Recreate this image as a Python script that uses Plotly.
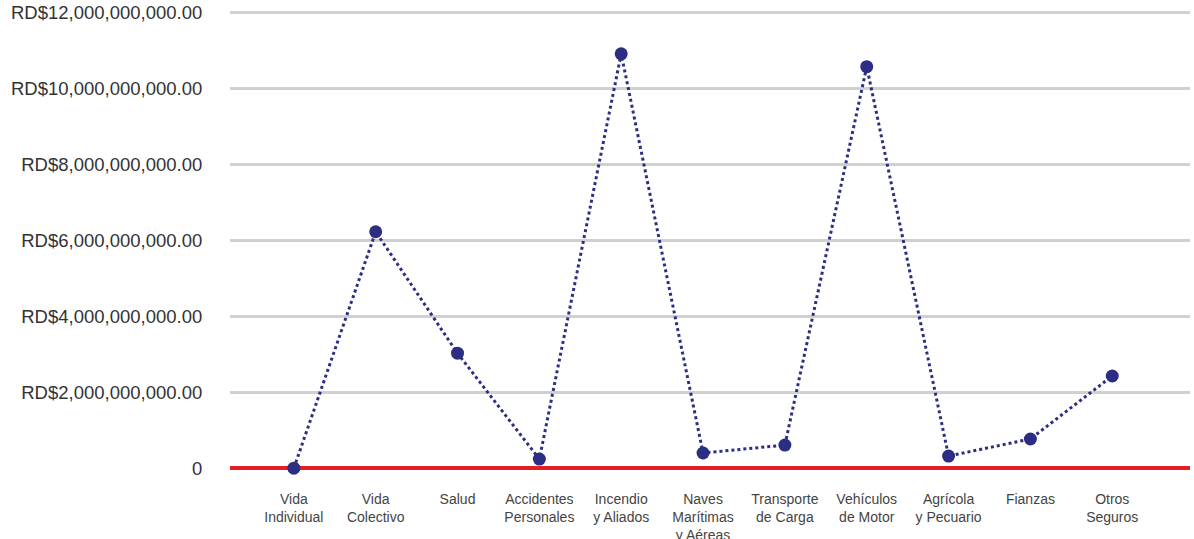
import plotly.graph_objects as go

categories = ["Vida<br>Individual", "Vida<br>Colectivo", "Salud", "Accidentes<br>Personales",
              "Incendio<br>y Aliados", "Naves<br>Marítimas<br>y Aéreas", "Transporte<br>de Carga",
              "Vehículos<br>de Motor", "Agrícola<br>y Pecuario", "Fianzas", "Otros<br>Seguros"]
values = [0.0e9, 6.23e9, 3.03e9, 0.24e9, 10.92e9, 0.40e9, 0.61e9, 10.58e9, 0.32e9, 0.77e9, 2.43e9]
y_ticks = [0, 2e9, 4e9, 6e9, 8e9, 10e9, 12e9]
y_ticktext = ["0", "RD$2,000,000,000.00", "RD$4,000,000,000.00", "RD$6,000,000,000.00",
              "RD$8,000,000,000.00", "RD$10,000,000,000.00", "RD$12,000,000,000.00"]

navy = "#2b2e83"

fig = go.Figure()
fig.add_trace(go.Scatter(
    x=list(range(len(categories))), y=values, mode="lines+markers",
    line=dict(color=navy, width=3, dash="dot"),
    marker=dict(color=navy, size=13),
    cliponaxis=False, showlegend=False,
))

fig.update_layout(
    width=1194, height=539,
    margin=dict(l=230, r=4, t=9, b=67, autoexpand=False),
    paper_bgcolor="white", plot_bgcolor="white",
    font=dict(family="Liberation Sans, Arial, sans-serif", color="#333333"),
    xaxis=dict(
        tickmode="array", tickvals=list(range(len(categories))), ticktext=categories,
        range=[-0.78, 10.95], showgrid=False, zeroline=False, showline=False,
        ticks="outside", ticklen=14, tickcolor="rgba(0,0,0,0)",
        tickfont=dict(size=14, color="#444444"), automargin=False,
    ),
    yaxis=dict(
        range=[-0.1e9, 12.1e9], tickmode="array", tickvals=y_ticks, ticktext=y_ticktext,
        showgrid=True, gridcolor="#d0d0d0", gridwidth=3,
        zeroline=True, zerolinecolor="#e31e24", zerolinewidth=4, showline=False,
        ticks="outside", ticklen=23, tickcolor="rgba(0,0,0,0)",
        tickfont=dict(size=18.5, color="#333333"), automargin=False,
    ),
)

fig.write_html("out.html", config={"displayModeBar": False},
               post_script="document.body.style.margin='0';document.body.style.overflow='hidden';")
